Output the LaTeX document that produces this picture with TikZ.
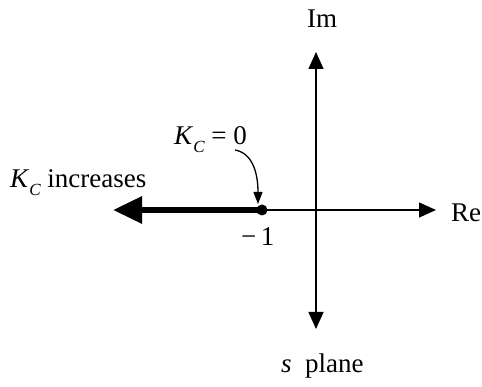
\documentclass[tikz,border=0pt]{standalone}
\usepackage{fontspec}
\setmainfont{Liberation Serif}
\usetikzlibrary{arrows.meta}
\newcommand{\KCsym}{\textit{K}\raisebox{-8pt}{\fontsize{17}{20}\selectfont\itshape C}}
\begin{document}
\begin{tikzpicture}[x=1pt,y=-1pt,
  lbl/.style={inner sep=0pt, anchor=base west, font=\fontsize{27}{31}\selectfont},
  axis/.style={line width=1.3pt, -{Triangle[length=17pt,width=15pt]}}]
\useasboundingbox (0,0) rectangle (482,387);
% axes
\coordinate (O) at (316,210);
\coordinate (retip) at (436,210);
\coordinate (imtop) at (316,52);
\coordinate (imbot) at (316,329);
\coordinate (lefttip) at (113,210);
\node[circle, fill=black, inner sep=0pt, minimum size=11pt] (dot) at (262,210) {};
\draw[axis] (dot.center) -- (retip);
\draw[axis] (O) -- (imtop);
\draw[axis] (O) -- (imbot);
\draw[line width=6pt, -{Triangle[length=29pt,width=26pt]}] (dot.center) -- (lefttip);
% curved arrow
\coordinate (cstart) at (235,150);
\coordinate (cend) at (258,204);
\draw[line width=1.3pt, -{Triangle[length=12pt,width=9pt]}] (cstart) .. controls (252,153) and (258,172) .. (cend);
% labels
\node[lbl] (im) at (307,28) {Im};
\node[lbl] (re) at (451,222) {Re};
\node[lbl] (m1) at (241,246) {\textminus\,1};
\node[lbl] (kc0) at (174,145) {\KCsym{} = 0};
\node[lbl] (kcinc) at (10,188) {\KCsym{} increases};
\node[lbl] (splane) at (281,373) {\textit{s}\ \ plane};
\end{tikzpicture}
\end{document}
